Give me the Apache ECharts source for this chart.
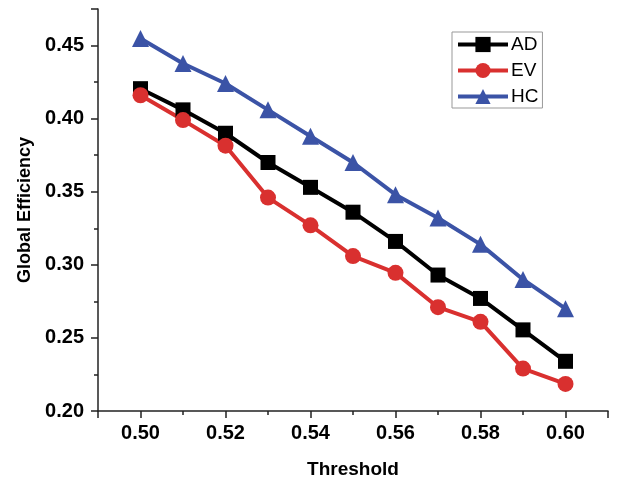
<!DOCTYPE html>
<html><head><meta charset="utf-8">
<script src="https://cdn.jsdelivr.net/npm/echarts@6/dist/echarts.min.js"></script>
<style>html,body{margin:0;padding:0;background:#fff}#c{width:644px;height:480px}</style>
</head><body><div id="c"></div>
<script>
var thresholds = [0.50,0.51,0.52,0.53,0.54,0.55,0.56,0.57,0.58,0.59,0.60];
var adValues = [0.4205,0.406,0.390,0.370,0.353,0.336,0.316,0.293,0.277,0.2555,0.234];
var evValues = [0.416,0.399,0.3815,0.346,0.327,0.306,0.2945,0.271,0.261,0.229,0.2185];
var hcValues = [0.4548,0.4377,0.424,0.406,0.388,0.370,0.348,0.332,0.314,0.290,0.270];
var seriesNames = ['AD','EV','HC'];
var colors = ['#000000','#d9302f','#3b53a6'];

function pairs(v){return thresholds.map(function(t,i){return [t,v[i]];});}
var font = 'Arial, "Liberation Sans", sans-serif';
var axisColor = '#222';
var labelStyle = {fontFamily:font,fontSize:20,fontWeight:'bold',color:'#000'};
function xFmt(v){var k=Math.round(v*100);return (k%2===0 && Math.abs(k-v*100)<1e-6)?v.toFixed(2):'';}
function yFmt(v){var k=Math.round(v*20);return Math.abs(k-v*20)<1e-6?v.toFixed(2):'';}

var chart = echarts.init(document.getElementById('c'));
chart.setOption({
  animation:false,
  grid:{left:98,right:36,top:9,bottom:69,outerBoundsMode:'none',containLabel:false},
  legend:{
    orient:'vertical', left:452, top:32, padding:[3,4,2,4],
    borderColor:'#999', borderWidth:1, backgroundColor:'#fff',
    itemWidth:50, itemHeight:19, itemGap:7,
    lineStyle:{width:4},
    textStyle:{fontFamily:font,fontSize:19,color:'#000',padding:[0,0,0,-2]},
    data:seriesNames
  },
  xAxis:[{
    type:'value', position:'bottom', min:0.49, max:0.61, interval:0.01,
    name:'Threshold', nameLocation:'middle', nameGap:49,
    nameTextStyle:{fontFamily:font,fontSize:19,fontWeight:'bold',color:'#000'},
    axisLine:{lineStyle:{color:axisColor,width:1.5}},
    axisTick:{inside:false,length:4,lineStyle:{color:axisColor,width:1.5}},
    axisLabel:{show:false},
    splitLine:{show:false}
  },{
    type:'value', position:'bottom', min:0.49, max:0.61, splitNumber:6,
    axisLine:{show:false},
    axisTick:{show:true,inside:false,length:7,lineStyle:{color:axisColor,width:1.5}},
    axisLabel:Object.assign({margin:12,formatter:xFmt},labelStyle),
    splitLine:{show:false}
  }],
  yAxis:[{
    type:'value', position:'left', min:0.20, max:0.475, interval:0.025,
    name:'Global Efficiency', nameLocation:'middle', nameGap:64,
    nameTextStyle:{fontFamily:font,fontSize:18,fontWeight:'bold',color:'#000'},
    axisLine:{show:true,lineStyle:{color:axisColor,width:1.5}},
    axisTick:{show:true,inside:false,length:4,lineStyle:{color:axisColor,width:1.5}},
    axisLabel:{show:false},
    splitLine:{show:false}
  },{
    type:'value', position:'left', min:0.20, max:0.475, interval:0.05,
    axisLine:{show:false},
    axisTick:{show:true,inside:false,length:7,lineStyle:{color:axisColor,width:1.5}},
    axisLabel:Object.assign({margin:14,formatter:yFmt},labelStyle),
    splitLine:{show:false}
  }],
  series:[
    {name:'AD',type:'line',data:pairs(adValues),symbol:'rect',symbolSize:15,
      lineStyle:{color:colors[0],width:4},itemStyle:{color:colors[0]}},
    {name:'EV',type:'line',data:pairs(evValues),symbol:'circle',symbolSize:16,
      lineStyle:{color:colors[1],width:4},itemStyle:{color:colors[1]}},
    {name:'HC',type:'line',data:pairs(hcValues),symbol:'triangle',symbolSize:17,
      lineStyle:{color:colors[2],width:4},itemStyle:{color:colors[2]}}
  ]
});
</script></body></html>
